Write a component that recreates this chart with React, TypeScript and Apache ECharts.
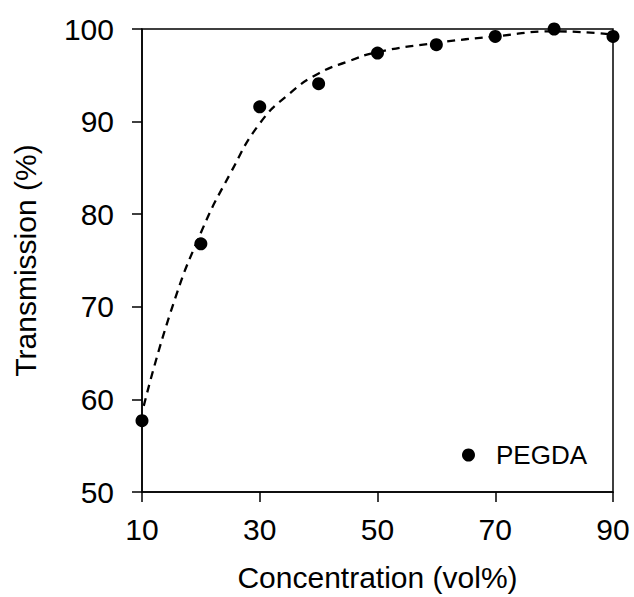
import React, { useEffect, useRef } from "react";
import * as echarts from "echarts";

const concentration = [10, 20, 30, 40, 50, 60, 70, 80, 90];
const transmission = [57.7, 76.8, 91.6, 94.1, 97.4, 98.3, 99.2, 100, 99.2];

const fitX = [10.3, 15, 20, 25, 30, 35, 40, 45, 50, 60, 70, 80, 90];
const fitY = [59.3, 69.7, 78.0, 84.4, 89.8, 93.0, 95.2, 96.5, 97.5, 98.5, 99.2, 99.75, 99.4];

const xTicks = [10, 30, 50, 70, 90];
const yTicks = [50, 60, 70, 80, 90, 100];

const FONT = "'Liberation Sans', Arial, sans-serif";

export default function App() {
  const ref = useRef<HTMLDivElement>(null);
  useEffect(() => {
    if (!ref.current) return;
    const chart = echarts.init(ref.current, undefined, { renderer: "svg" });
    chart.setOption({
      animation: false,
      backgroundColor: "#fff",
      textStyle: { fontFamily: FONT, color: "#000" },
      grid: {
        left: 142,
        right: 21,
        top: 29,
        bottom: 104,
        show: true,
        borderColor: "#000",
        borderWidth: 1.5,
      },
      legend: {
        data: [{ name: "PEGDA", icon: "circle" }],
        left: 457,
        top: 437,
        itemWidth: 13,
        itemHeight: 13,
        itemStyle: { color: "#000", opacity: 1 },
        textStyle: { fontSize: 26, color: "#000", fontFamily: FONT, padding: [0, 0, 0, 16] },
      },
      xAxis: {
        type: "value",
        min: xTicks[0],
        max: xTicks[xTicks.length - 1],
        interval: 20,
        name: "Concentration (vol%)",
        nameLocation: "middle",
        nameGap: 70,
        nameTextStyle: { fontSize: 30, color: "#000", fontFamily: FONT },
        axisLine: { lineStyle: { color: "#000", width: 1.5 } },
        axisTick: { show: true, inside: false, length: 10, lineStyle: { color: "#000", width: 1.5 } },
        axisLabel: { fontSize: 30, color: "#000", margin: 22, fontFamily: FONT },
        splitLine: { show: false },
      },
      yAxis: {
        type: "value",
        min: yTicks[0],
        max: yTicks[yTicks.length - 1],
        interval: 10,
        name: "Transmission (%)",
        nameLocation: "middle",
        nameGap: 102,
        nameTextStyle: { fontSize: 30, color: "#000", fontFamily: FONT },
        axisLine: { show: true, lineStyle: { color: "#000", width: 1.5 } },
        axisTick: { show: true, inside: false, length: 10, lineStyle: { color: "#000", width: 1.5 } },
        axisLabel: { fontSize: 30, color: "#000", margin: 28, fontFamily: FONT },
        splitLine: { show: false },
      },
      series: [
        {
          name: "fit",
          type: "line",
          data: fitX.map((x, i) => [x, fitY[i]]),
          smooth: true,
          showSymbol: false,
          symbol: "none",
          clip: false,
          lineStyle: { color: "#000", width: 2.3, type: [8, 6] },
          z: 2,
        },
        {
          name: "PEGDA",
          type: "scatter",
          data: concentration.map((x, i) => [x, transmission[i]]),
          symbol: "circle",
          symbolSize: 13,
          clip: false,
          itemStyle: { color: "#000", opacity: 1 },
          z: 3,
        },
      ],
    });
    return () => chart.dispose();
  }, []);
  return (
    <div
      ref={ref}
      style={{ position: "fixed", left: 0, top: 0, width: 634, height: 597 }}
    />
  );
}
